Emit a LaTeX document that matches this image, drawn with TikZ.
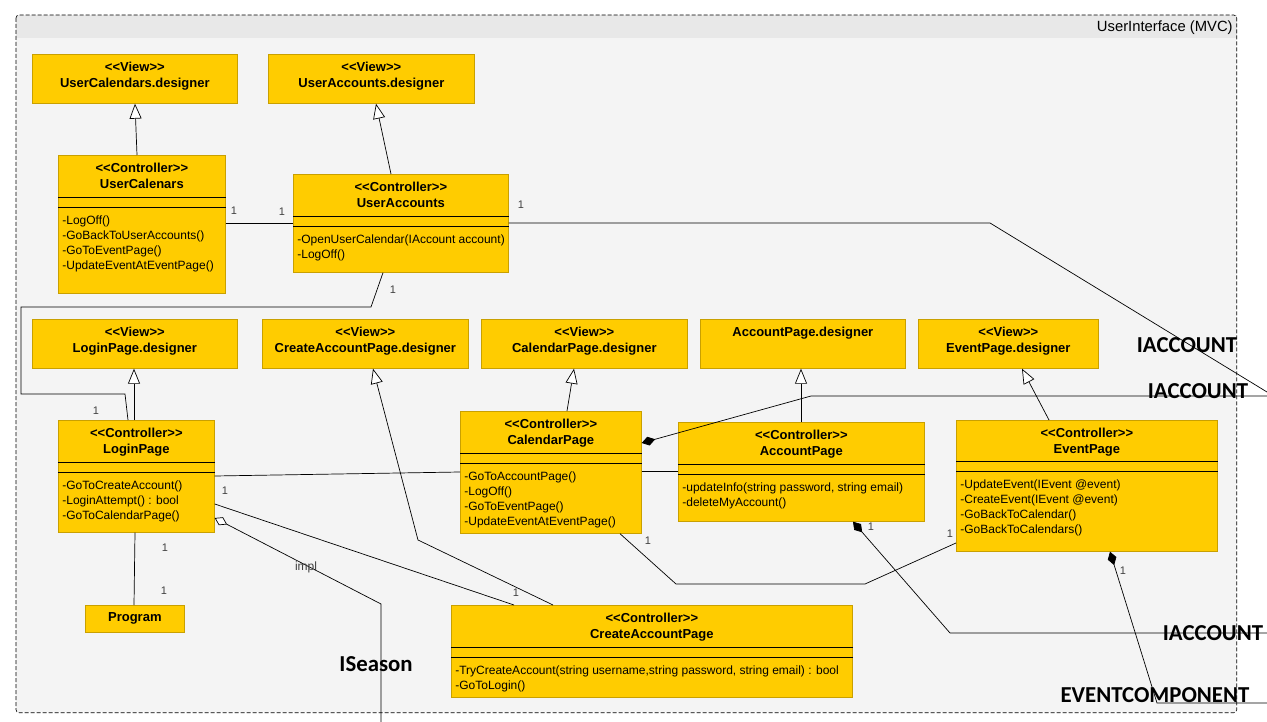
\documentclass[tikz,border=0pt]{standalone}
\usepackage{fontspec}
\newfontfamily\umlfont{Liberation Sans}
\newfontfamily\ifacefont{Carlito}
\usetikzlibrary{arrows.meta,calc}
\definecolor{clsfill}{HTML}{FFCC00}
\definecolor{clsline}{HTML}{C9A000}
\definecolor{pkgfill}{HTML}{F4F4F4}
\definecolor{pkghead}{HTML}{E8E8E8}
\definecolor{multgray}{HTML}{404040}
\tikzset{
  cls/.style={draw=clsline, fill=clsfill, anchor=north west, inner sep=0pt},
  ttl/.style={font=\umlfont\bfseries\fontsize{13}{16.5}\selectfont, align=center, anchor=north, inner sep=0pt},
  ops/.style={font=\umlfont\fontsize{12}{15}\selectfont, align=left, anchor=north west, inner sep=0pt},
  mult/.style={font=\umlfont\fontsize{11}{12}\selectfont, text=multgray, inner sep=0pt},
  iface/.style={font=\ifacefont\bfseries\fontsize{22.8}{24}\selectfont, inner sep=0pt},
  gen/.style={-{Triangle[length=15pt,width=12pt,fill=white]}},
  comp/.style={{Diamond[length=14pt,width=9pt]}-},
  aggr/.style={{Diamond[length=14pt,width=9pt,fill=white]}-},
}
\begin{document}
\begin{tikzpicture}[x=1pt, y=-1pt, line width=0.7pt]
    \useasboundingbox (0,0) rectangle (1267,722);
    \node[fill=pkgfill, anchor=north west, minimum width=1220pt, minimum height=697pt, inner sep=0pt] (pkg) at (16,15) {};
    \fill[pkghead] (pkg.north west) rectangle ($(pkg.north east)+(0,23)$);
    \draw[dash pattern=on 4pt off 2pt, line width=0.6pt, rounded corners=3pt] (pkg.north west) rectangle (pkg.south east);
    \node[anchor=east, font=\umlfont\fontsize{14.8}{16}\selectfont, inner sep=0pt] (pkgT) at (1233,28) {UserInterface (MVC)};

    \node[cls, minimum width=205pt, minimum height=49pt] (vUCal) at (32,54) {};
    \node[cls, minimum width=206pt, minimum height=49pt] (vUAcc) at (268,54) {};
    \node[cls, minimum width=205pt, minimum height=49pt] (vLogin) at (32,319) {};
    \node[cls, minimum width=206pt, minimum height=49pt] (vCAcc) at (262,319) {};
    \node[cls, minimum width=206pt, minimum height=49pt] (vCal) at (481,319) {};
    \node[cls, minimum width=205pt, minimum height=49pt] (vAcc) at (700,319) {};
    \node[cls, minimum width=180pt, minimum height=49pt] (vEvt) at (918,319) {};

    \node[ttl] (vUCalT) at ($(vUCal.north)+(0,7.5)$) {<<View>>\\UserCalendars.designer};
    \node[ttl] (vUAccT) at ($(vUAcc.north)+(0,7.5)$) {<<View>>\\UserAccounts.designer};
    \node[ttl] (vLoginT) at ($(vLogin.north)+(0,7.5)$) {<<View>>\\LoginPage.designer};
    \node[ttl] (vCAccT) at ($(vCAcc.north)+(0,7.5)$) {<<View>>\\CreateAccountPage.designer};
    \node[ttl] (vCalT) at ($(vCal.north)+(0,7.5)$) {<<View>>\\CalendarPage.designer};
    \node[ttl] (vAccT) at ($(vAcc.north)+(0,7.5)$) {AccountPage.designer};
    \node[ttl] (vEvtT) at ($(vEvt.north)+(0,7.5)$) {<<View>>\\EventPage.designer};

    \node[cls, minimum width=167pt, minimum height=138pt] (cUCal) at (58,155) {};
    \node[cls, minimum width=215pt, minimum height=98pt] (cUAcc) at (293,174) {};
    \node[cls, minimum width=156pt, minimum height=112pt] (cLogin) at (58,420) {};
    \node[cls, minimum width=181pt, minimum height=122pt] (cCal) at (460,411) {};
    \node[cls, minimum width=246pt, minimum height=99pt] (cAcc) at (678,422) {};
    \node[cls, minimum width=261pt, minimum height=131pt] (cEvt) at (956,420) {};
    \node[cls, minimum width=401pt, minimum height=92pt] (cCAcc) at (451,605) {};
    \node[cls, minimum width=99pt, minimum height=27pt, font=\umlfont\bfseries\fontsize{13}{14}\selectfont] (prog) at (85,605) {Program};

    \foreach \b/\d in {cUCal/42, cUAcc/42, cLogin/42, cCal/42, cAcc/42, cEvt/41, cCAcc/42} {
      \draw ($(\b.north west)+(0,\d)$) -- ($(\b.north east)+(0,\d)$);
      \draw ($(\b.north west)+(0,\d+10)$) -- ($(\b.north east)+(0,\d+10)$);
    }

    \node[ttl] (cUCalT) at ($(cUCal.north)+(0,7.5)$) {<<Controller>>\\UserCalenars};
    \node[ttl] (cUAccT) at ($(cUAcc.north)+(0,7.5)$) {<<Controller>>\\UserAccounts};
    \node[ttl] (cLoginT) at ($(cLogin.north)+(0,7.5)$) {<<Controller>>\\LoginPage};
    \node[ttl] (cCalT) at ($(cCal.north)+(0,7.5)$) {<<Controller>>\\CalendarPage};
    \node[ttl] (cAccT) at ($(cAcc.north)+(0,7.5)$) {<<Controller>>\\AccountPage};
    \node[ttl] (cEvtT) at ($(cEvt.north)+(0,7.5)$) {<<Controller>>\\EventPage};
    \node[ttl] (cCAccT) at ($(cCAcc.north)+(0,7.5)$) {<<Controller>>\\CreateAccountPage};

    \node[ops] (cUCalM) at ($(cUCal.north west)+(4,60)$) {-LogOff()\\-GoBackToUserAccounts()\\-GoToEventPage()\\-UpdateEventAtEventPage()};
    \node[ops] (cUAccM) at ($(cUAcc.north west)+(4,60)$) {-OpenUserCalendar(IAccount account)\\-LogOff()};
    \node[ops] (cLoginM) at ($(cLogin.north west)+(4,60)$) {-GoToCreateAccount()\\-LoginAttempt() : bool\\-GoToCalendarPage()};
    \node[ops] (cCalM) at ($(cCal.north west)+(4,60)$) {-GoToAccountPage()\\-LogOff()\\-GoToEventPage()\\-UpdateEventAtEventPage()};
    \node[ops] (cAccM) at ($(cAcc.north west)+(4,60)$) {-updateInfo(string password, string email)\\-deleteMyAccount()};
    \node[ops] (cEvtM) at ($(cEvt.north west)+(4,59)$) {-UpdateEvent(IEvent @event)\\-CreateEvent(IEvent @event)\\-GoBackToCalendar()\\-GoBackToCalendars()};
    \node[ops] (cCAccM) at ($(cCAcc.north west)+(4,60)$) {-TryCreateAccount(string username,string password, string email) : bool\\-GoToLogin()};

    \coordinate (ua1) at (990,223);
    \coordinate (ua2) at (1267,392);
    \coordinate (lg1) at (371,307);
    \coordinate (lg2) at (21,307);
    \coordinate (lg3) at (21,394);
    \coordinate (lg4) at (125,394);
    \coordinate (ca1) at (418,540);
    \coordinate (im1) at (381,604);
    \coordinate (im2) at (381,722);
    \coordinate (cp1) at (811,396);
    \coordinate (cp2) at (1267,396);
    \coordinate (ce1) at (676,584);
    \coordinate (ce2) at (865,584);
    \coordinate (ap1) at (950,633);
    \coordinate (ap2) at (1267,633);
    \coordinate (ep1) at (1157,703);
    \coordinate (ep2) at (1267,703);

    \draw[gen] (cUCal.north -| 137,0) -- (vUCal.south -| 135,0);
    \draw[gen] (cUAcc.north -| 391,0) -- (vUAcc.south -| 376,0);
    \draw[gen] (cLogin.north -| 134,0) -- (vLogin.south -| 134,0);
    \draw[gen] (cCal.north -| 567,0) -- (vCal.south -| 574,0);
    \draw[gen] (cAcc.north -| 801,0) -- (vAcc.south -| 801,0);
    \draw[gen] (cEvt.north -| 1049,0) -- (vEvt.south -| 1022,0);
    \draw[gen] (cCAcc.north -| 553,0) -- (ca1) -- (vCAcc.south -| 373,0);

    \draw (cUCal.east |- 0,223) -- (cUAcc.west |- 0,223);
    \draw (cUAcc.east |- 0,223) -- (ua1) -- (ua2);
    \draw (cUAcc.south -| 383,0) -- (lg1) -- (lg2) -- (lg3) -- (lg4) -- (cLogin.north -| 128,0);
    \draw (cLogin.south -| 135,0) -- (prog.north -| 134,0);
    \draw (cLogin.east |- 0,476) -- (cCal.west |- 0,472);
    \draw (cLogin.east |- 0,504) -- (cCAcc.north -| 514,0);
    \draw[aggr] (cLogin.east |- 0,518) -- (im1) -- (im2);
    \draw (cCal.east |- 0,471) -- (cAcc.west |- 0,471);
    \draw[comp] (cCal.east |- 0,443) -- (cp1) -- (cp2);
    \draw (cCal.south -| 620,0) -- (ce1) -- (ce2) -- (cEvt.west |- 0,543);
    \draw[comp] (cAcc.south -| 853,0) -- (ap1) -- (ap2);
    \draw[comp] (cEvt.south -| 1110,0) -- (ep1) -- (ep2);

    \node[mult] (m1) at (234,211) {1};
    \node[mult] (m2) at (282,212) {1};
    \node[mult] (m3) at (521,205) {1};
    \node[mult] (m4) at (393,290) {1};
    \node[mult] (m5) at (96,411) {1};
    \node[mult] (m6) at (225,491) {1};
    \node[mult] (m7) at (165,548) {1};
    \node[mult] (m8) at (164,591) {1};
    \node[mult] (m9) at (516,593) {1};
    \node[mult] (m10) at (648,541) {1};
    \node[mult] (m11) at (871,527) {1};
    \node[mult] (m12) at (950,534) {1};
    \node[mult] (m13) at (1123,571) {1};
    \node[mult, font=\umlfont\fontsize{12}{13}\selectfont] (impl) at (306,567) {impl};

    \node[iface] (ia1) at (1187,345) {IACCOUNT};
    \node[iface] (ia2) at (1198,391) {IACCOUNT};
    \node[iface] (ia3) at (1213,633) {IACCOUNT};
    \node[iface] (evc) at (1155,695) {EVENTCOMPONENT};
    \node[iface] (isn) at (376,664) {ISeason};
\end{tikzpicture}
\end{document}
